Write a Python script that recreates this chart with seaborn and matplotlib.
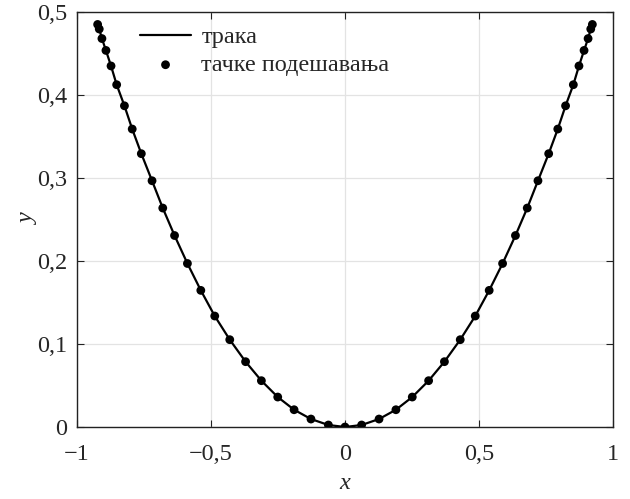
import numpy as np
import pandas as pd
import matplotlib
matplotlib.use("Agg")
import matplotlib.pyplot as plt
import seaborn as sns
from matplotlib.ticker import FixedLocator, FuncFormatter

# data (left half mirrored to the right)
x_half = [0.923, 0.917, 0.907, 0.892, 0.873, 0.852, 0.823, 0.794, 0.760, 0.720,
          0.680, 0.636, 0.588, 0.538, 0.486, 0.430, 0.371, 0.312, 0.251, 0.190,
          0.127, 0.062]
y_half = [0.485, 0.4795, 0.468, 0.4537, 0.435, 0.4124, 0.387, 0.359, 0.3293, 0.2967,
          0.2638, 0.2307, 0.197, 0.1646, 0.1337, 0.1052, 0.0787, 0.0558, 0.0361, 0.0208,
          0.0096, 0.0024]
x_center = [0.0]
y_center = [0.0]

x_vals = [-v for v in x_half] + x_center + x_half[::-1]
y_vals = y_half + y_center + y_half[::-1]

x_ticks = [-1, -0.5, 0, 0.5, 1]
y_ticks = [0, 0.1, 0.2, 0.3, 0.4, 0.5]
line_label = "трака"
points_label = "тачке подешавања"

df = pd.DataFrame({"x": x_vals, "y": y_vals})

sns.set_style("ticks")
plt.rcParams["font.family"] = ["Liberation Serif", "DejaVu Serif"]

fig = plt.figure(figsize=(6.3, 4.99), dpi=100)
ax = fig.add_axes([77 / 630, 1 - 427 / 499, 536 / 630, 415 / 499])

sns.lineplot(data=df, x="x", y="y", color="black", lw=1.6, sort=False,
             ax=ax, label=line_label, zorder=3)
sns.scatterplot(data=df, x="x", y="y", color="black", s=40, edgecolor="none",
                ax=ax, label=points_label, zorder=4)

ax.set_xlim(-1, 1)
ax.set_ylim(0, 0.5)


def fmt(v, pos=None):
    if abs(v - round(v)) < 1e-9:
        s = str(int(round(v)))
    else:
        s = ("%g" % v)
    s = s.replace(".", ",").replace("-", "\u2212")
    return s


ax.xaxis.set_major_locator(FixedLocator(x_ticks))
ax.yaxis.set_major_locator(FixedLocator(y_ticks))
ax.xaxis.set_major_formatter(FuncFormatter(fmt))
ax.yaxis.set_major_formatter(FuncFormatter(fmt))

ax.tick_params(direction="in", length=5, width=0.8, labelsize=17.5,
               top=True, right=True, color="#222222")
ax.tick_params(axis="x", pad=12)
ax.tick_params(axis="y", pad=7)
ax.grid(True, color="#e3e3e3", lw=0.9)
ax.set_axisbelow(True)
for sp in ax.spines.values():
    sp.set_linewidth(1.0)
    sp.set_color("#222222")
    sp.set_visible(True)

ax.set_xlabel("x", fontsize=17.5, fontstyle="italic")
ax.xaxis.set_label_coords(0.5, -(473 - 427) / 415)
ax.set_ylabel("y", fontsize=17.5, fontstyle="italic")
ax.yaxis.set_label_coords(-(77 - 39) / 536, 0.5)

leg = ax.legend(loc="upper left", bbox_to_anchor=((140 - 77) / 536, (427 - 26) / 415),
                frameon=False, fontsize=17.5, borderpad=0, borderaxespad=0,
                handlelength=2.1, handletextpad=0.42, labelspacing=0.25)

fig.savefig("out.png", dpi=100)
